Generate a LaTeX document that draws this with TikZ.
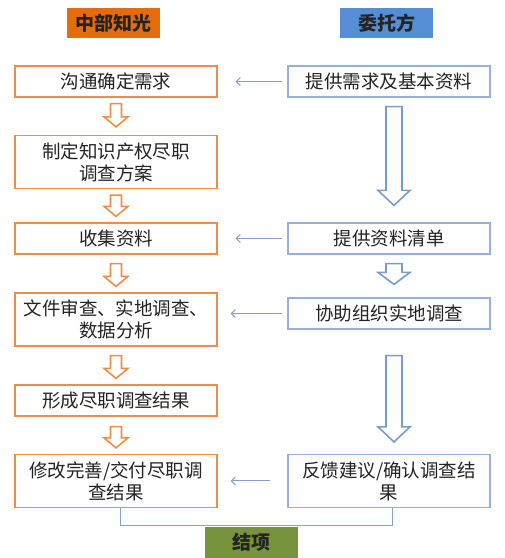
\documentclass[tikz,border=0pt]{standalone}
\usepackage{fontspec}
\setmainfont{Noto Sans CJK SC}
\usepackage{xcolor}
\usepackage{tikz}
\usetikzlibrary{arrows.meta,calc}
\definecolor{headorange}{RGB}{228,108,10}
\definecolor{headblue}{RGB}{85,142,213}
\definecolor{headgreen}{RGB}{119,147,60}
\definecolor{boxorange}{RGB}{240,140,70}
\definecolor{boxblue}{RGB}{150,175,220}
\definecolor{linkblue}{RGB}{135,160,205}
\definecolor{arrowblue}{RGB}{120,155,210}
\definecolor{textgray}{RGB}{35,35,35}
\tikzset{
  header/.style={minimum width=93pt, minimum height=30pt, inner sep=0pt,
    font=\fontsize{19}{22}\selectfont\bfseries, text=textgray},
  partybox/.style={fill=white, line width=1.2pt, align=center,
    minimum width=202pt, minimum height=31pt, inner sep=2pt,
    font=\fontsize{18.5}{22}\selectfont, text=textgray},
  ourbox/.style={partybox, draw=boxorange},
  clientbox/.style={partybox, draw=boxblue},
  flow/.style={-{Straight Barb[length=4pt,width=8pt]}, line width=1pt,
    draw=linkblue, shorten <=5pt},
  blockarrow/.style n args={3}{line width=1.6pt, line join=miter,
    to path={let \p1=(\tikztostart), \p2=(\tikztotarget) in
      (\x1-#1,\y1) -- (\x1+#1,\y1) -- (\x1+#1,\y2+#3) -- (\x1+#2,\y2+#3)
      -- (\x1,\y2) -- (\x1-#2,\y2+#3) -- (\x1-#1,\y2+#3) -- cycle}},
  ourstep/.style={blockarrow={5.5pt}{12pt}{10pt}, draw=boxorange},
  clientstep/.style={blockarrow={8pt}{16pt}{15pt}, draw=arrowblue}
}
\begin{document}
\begin{tikzpicture}[x=1pt, y=1pt]
  \useasboundingbox (0,0) rectangle (505,558);
  % headers
  \node[header, fill=headorange] (hours) at (113.5,535) {中部知光};
  \node[header, fill=headblue] (hclient) at (386.5,535) {委托方};
  % left column
  \node[ourbox] (talk) at (116,476.5) {沟通确定需求};
  \node[ourbox, minimum height=53pt] (plan) at (116,396) {制定知识产权尽职\\调查方案};
  \node[ourbox] (collect) at (116,319.5) {收集资料};
  \node[ourbox, minimum height=53pt] (review) at (116,238.5) {文件审查、实地调查、\\数据分析};
  \node[ourbox] (result) at (116,157.5) {形成尽职调查结果};
  \node[ourbox, minimum height=53pt] (deliver) at (116,77) {修改完善/交付尽职调\\查结果};
  % right column
  \node[clientbox] (need) at (389,476.5) {提供需求及基本资料};
  \node[clientbox] (list) at (389,319.5) {提供资料清单};
  \node[clientbox] (assist) at (389,244.5) {协助组织实地调查};
  \node[clientbox, minimum height=53pt] (feedback) at (389,77) {反馈建议/确认调查结\\果};
  % closing
  \node[header, fill=headgreen, minimum height=31pt] (close) at (251.5,15.5) {结项};
  % hollow arrows
  \draw[ourstep] ([yshift=-6pt]talk.south) to ([yshift=8pt]plan.north);
  \draw[ourstep] ([yshift=-6pt]plan.south) to ([yshift=6pt]collect.north);
  \draw[ourstep] ([yshift=-9pt]collect.south) to ([yshift=6pt]review.north);
  \draw[ourstep] ([yshift=-9pt]review.south) to ([yshift=6pt]result.north);
  \draw[ourstep] ([yshift=-10pt]result.south) to ([yshift=6pt]deliver.north);
  \draw[clientstep] ([xshift=5pt,yshift=-9pt]need.south) to ([xshift=5pt,yshift=17pt]list.north);
  \draw[clientstep, blockarrow={8pt}{16pt}{12pt}] ([xshift=5pt,yshift=-9pt]list.south) to ([xshift=5pt,yshift=13pt]assist.north);
  \draw[clientstep] ([xshift=5pt,yshift=-26pt]assist.south) to ([xshift=5pt,yshift=12pt]feedback.north);
  % hand-over arrows
  \draw[flow, shorten >=18pt] (need) -- (talk);
  \draw[flow, shorten >=18pt] (list) -- (collect);
  \draw[flow, shorten >=13pt] (assist.west) -- (assist.west -| review.east);
  \draw[flow, shorten <=17pt, shorten >=13pt] (feedback) -- (deliver);
  % bracket to closing
  \draw[line width=1pt, draw=linkblue] ([xshift=4pt]deliver.south) -- ++(0,-17) -| ([xshift=3pt]feedback.south);
\end{tikzpicture}
\end{document}
